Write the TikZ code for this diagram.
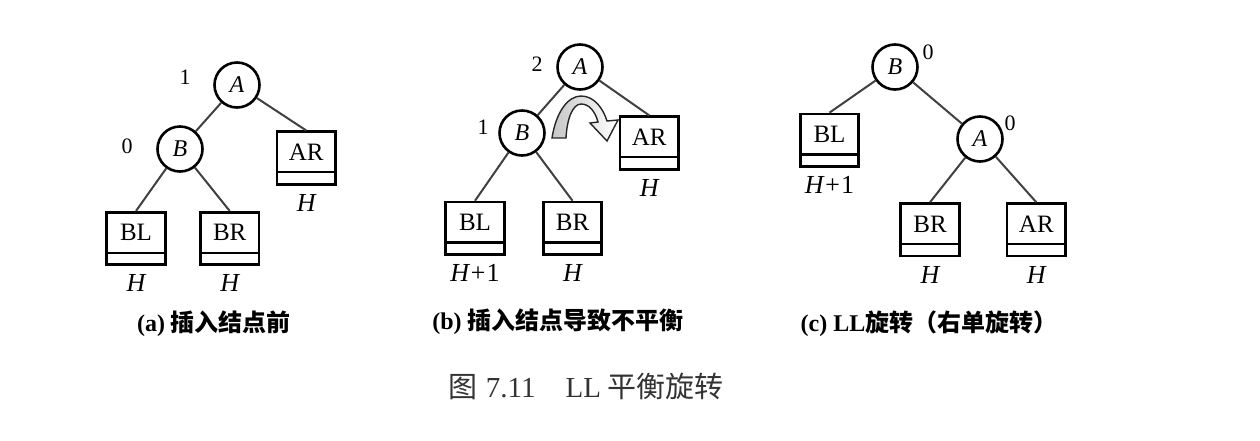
\documentclass[tikz,border=0pt]{standalone}
\usepackage{fontspec}
\setmainfont{Liberation Serif}
\newfontfamily\cjk{Noto Sans CJK SC}
\usetikzlibrary{positioning}

\tikzset{
    avl/.style={circle, draw, line width=2.6pt, minimum size=45pt, inner sep=0pt,
        font=\fontsize{24}{28}\selectfont\itshape},
    subtree/.style={draw, line width=2.6pt, minimum width=58.5pt, minimum height=52.5pt,
        inner sep=0pt, text height=28.5pt, text depth=24pt,
        font=\fontsize{25}{28}\selectfont,
        path picture={\draw[line width=2.4pt]
            ([yshift=12pt]path picture bounding box.south west) --
            ([yshift=12pt]path picture bounding box.south east);}},
    hgt/.style={inner sep=0pt, font=\fontsize{26}{28}\selectfont\itshape},
    bal/.style={inner sep=0pt, font=\fontsize{22}{24}\selectfont},
    link/.style={line width=2pt, draw=black!75},
    subcap/.style={inner sep=0pt, font=\fontsize{24}{28}\selectfont\bfseries},
    figtitle/.style={inner sep=0pt, text=black!80, font=\fontsize{29}{32}\selectfont}
}

\begin{document}
\begin{tikzpicture}[x=1pt, y=-1pt]
    \useasboundingbox (0,0) rectangle (1260,440);

    % --- (a) before insertion ---
    \node[avl] (aA) at (237,85) {A};
    \node[avl] (aB) at (180,149) {B};
    \node[subtree] (aBL) at (136,238.5) {BL};
    \node[subtree] (aBR) at (229.7,238.5) {BR};
    \node[subtree] (aAR) at (306.2,158) {AR};
    \node[bal] (aAbf) at (185,77) {1};
    \node[bal] (aBbf) at (127,146) {0};
    \node[hgt, below=8.5pt of aBL] (aBLh) {H};
    \node[hgt, below=8.5pt of aBR] (aBRh) {H};
    \node[hgt, below=8.5pt of aAR] (aARh) {H};
    \draw[link] (aA) -- (aB);
    \draw[link] (aA) -- (aAR.north);
    \draw[link] (aB) -- (aBL.north);
    \draw[link] (aB) -- (aBR.north);

    % --- (b) after insertion, unbalanced ---
    \node[avl] (bA) at (580,67) {A};
    \node[avl] (bB) at (522,133) {B};
    \node[subtree] (bBL) at (475,228.3) {BL};
    \node[subtree] (bBR) at (572.5,228.3) {BR};
    \node[subtree] (bAR) at (649.3,143) {AR};
    \node[bal] (bAbf) at (537,64) {2};
    \node[bal] (bBbf) at (483,127) {1};
    \node[hgt, below=8.5pt of bBL] (bBLh) {H+\upshape 1};
    \node[hgt, below=8.5pt of bBR] (bBRh) {H};
    \node[hgt, below=8.5pt of bAR] (bARh) {H};
    \draw[link] (bA) -- (bB);
    \draw[link] (bA) -- (bAR.north);
    \draw[link] (bB) -- (bBL.north);
    \draw[link] (bB) -- (bBR.north);
    % rotation arrow
    \shade[left color=gray!45, middle color=white, right color=white, draw=black!85, line width=1.4pt]
        (552,138) .. controls (556,112) and (568,96) .. (581,96)
        .. controls (594,96) and (603,108) .. (607,121)
        -- (618,120) -- (607,141) -- (590,123) -- (598,122)
        .. controls (595,111) and (589,104) .. (581,104)
        .. controls (573,104) and (567,118) .. (566,138) -- cycle;

    % --- (c) after LL rotation ---
    \node[avl] (cB) at (895,67) {B};
    \node[avl] (cA) at (980,139) {A};
    \node[subtree] (cBL) at (829.5,140.2) {BL};
    \node[subtree] (cBR) at (930,229.8) {BR};
    \node[subtree] (cAR) at (1036.3,229.8) {AR};
    \node[bal] (cBbf) at (928,52) {0};
    \node[bal] (cAbf) at (1010,123) {0};
    \node[hgt, below=8.5pt of cBL] (cBLh) {H+\upshape 1};
    \node[hgt, below=8.5pt of cBR] (cBRh) {H};
    \node[hgt, below=8.5pt of cAR] (cARh) {H};
    \draw[link] (cB) -- (cBL.north);
    \draw[link] (cB) -- (cA);
    \draw[link] (cA) -- (cBR.north);
    \draw[link] (cA) -- (cAR.north);

    % --- captions ---
    \node[subcap] (capa) at (214,324) {(a) {\cjk 插入结点前}};
    \node[subcap] (capb) at (558,322) {(b) {\cjk 插入结点导致不平衡}};
    \node[subcap] (capc) at (929,324) {(c) LL{\cjk 旋转（右单旋转）}};
    \node[figtitle] (fig) at (586,386) {{\cjk 图}\hspace{8pt}7.11\hspace{30pt}LL\hspace{6pt}{\cjk 平衡旋转}};
\end{tikzpicture}
\end{document}
